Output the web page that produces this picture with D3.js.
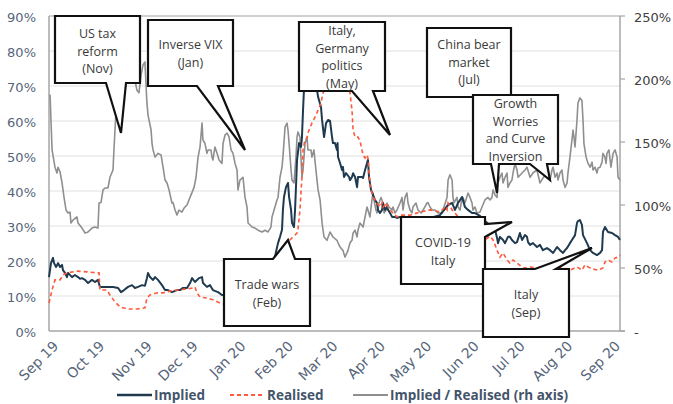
<!DOCTYPE html>
<html><head><meta charset="utf-8">
<script src="https://cdn.jsdelivr.net/npm/d3@7"></script>
<style>
html,body{margin:0;padding:0;background:#fff;}
svg{display:block;font-family:"Open Sans",sans-serif;}
</style></head>
<body><div id="chart"></div>
<script>
// ---- data (day offset from 26 Aug 2019, value in %) ----
const startDate = new Date(2019, 7, 26);
const endDate = new Date(2020, 8, 1);
const leftTicks = [0,10,20,30,40,50,60,70,80,90];
const rightTicks = [0,50,100,150,200,250];
const seriesNames = ["Implied","Realised","Implied / Realised (rh axis)"];

const implied = [[0,15.4],[1.3,19.4],[2.6,20.9],[3.3,19.4],[4.6,18.3],[5.9,19.4],[7.2,18.3],[8.5,18.9],[9.1,17.4],[10.4,16.6],[11.7,15.4],[12.4,16.6],[15,15.4],[16.9,16],[18.9,15.4],[20.2,14.9],[21.5,15.1],[23.5,14.6],[25.4,13.7],[28,14.6],[30,14],[31.9,14.6],[33.2,12.6],[37.8,12.6],[41.7,12.6],[45,12.3],[46.9,11.1],[48.9,11.7],[51.5,12.6],[54.1,13.1],[56,12.3],[58,12.6],[60.6,13.1],[62.5,12.9],[63.8,15.1],[64.5,16.6],[65.8,15.4],[67.8,14.6],[69.1,15.4],[71,14.6],[73.6,13.1],[75.6,11.7],[77.5,11.7],[80.1,11.1],[83.4,11.7],[85.3,11.7],[87.3,12.3],[89.9,12.3],[91.9,13.7],[93.2,15.1],[95.1,14],[97.7,15.1],[99.7,15.4],[100.3,13.7],[102.9,12.6],[104.9,13.1],[106.8,11.7],[110.1,11.1],[112.7,10.3],[114,10.3],[118,11.7],[121.8,11.1],[125.7,12.3],[129.7,13.1],[134.2,14],[138.8,13.1],[142.7,14.6],[146,18.9],[149.2,25.1],[150.5,26.9],[151.8,28.9],[152.4,34.6],[153.1,38.3],[154.4,41.1],[155.7,42.3],[156.4,38.3],[157.7,34.6],[158.3,30.9],[159.6,29.7],[160.3,34.6],[160.9,41.1],[161.6,48.9],[162.9,53.7],[164.2,52.6],[164.8,55.4],[165.5,63.1],[166.1,68.9],[167.4,73],[170,74.6],[172.6,71.7],[174.6,68.9],[175.3,66.9],[177.2,64],[177.9,60.3],[179.2,55.4],[180.5,59.4],[181.8,60.3],[183.1,60],[184.4,55.4],[185,53.7],[186.3,53.7],[187.6,51.7],[188,53.7],[188.3,49.7],[189.6,48],[190.9,46],[191.5,46.9],[192.2,44],[193.5,45.1],[195.5,44],[196.1,43.1],[197.4,44],[198.1,45.1],[199.4,44],[200.7,41.1],[201.3,44],[203.9,44],[204.6,43.7],[205.9,46],[207.2,48],[207.8,48.9],[208.5,44],[209.8,40.3],[211.1,38.9],[212.4,37.4],[213.7,36.6],[214.3,34.6],[215.6,33.7],[217,34.6],[217.6,36.6],[218.9,34.6],[220.2,35.4],[220.9,34.6],[222.2,33.7],[223.5,32.6],[225.4,32.6],[226.7,32.3],[228.7,32.6],[235.2,31.7],[241.7,31.1],[248.2,32.3],[254.7,33.1],[260,36],[262.6,36.6],[264.5,34.6],[266.5,36.6],[269.1,38.3],[271,35.4],[273,34.6],[275.6,33.7],[277.5,33.7],[280.8,32.9],[285.4,30.9],[288.6,29.7],[290.6,28.9],[291.9,26.6],[292.5,25.1],[293.8,26.9],[295.8,26],[297.1,25.1],[299,26.9],[300.3,26.9],[301.6,26],[303.6,25.1],[304.9,25.4],[306.8,28],[308.2,26],[310.1,27.4],[311.4,26.9],[312.1,25.4],[313.4,24.6],[315.3,25.1],[317.9,24],[319.9,24.6],[321.8,23.1],[324.4,23.7],[326.4,23.1],[328.4,22.3],[331,24],[332.9,23.1],[334.9,22.3],[336.2,23.1],[337.5,23.7],[339.4,25.1],[340.7,26],[342.7,27.4],[344,30.9],[344.6,31.4],[345.9,31.7],[347.2,30.3],[347.9,27.4],[350.5,25.1],[352.5,23.1],[354.4,22.3],[357,21.7],[359,22.3],[360.3,23.1],[360.9,28.3],[362.2,29.7],[364.2,28.3],[366.8,28],[368.8,27.4],[370.7,26.9],[372,26]];

const realised = [[0,8],[2,11.7],[3.9,14.6],[7.2,14.6],[9.1,16],[11.7,16.6],[18.2,17.1],[24.8,16.9],[31.3,16.6],[32.6,16.6],[33.2,11.7],[37.8,11.7],[39.7,10.3],[43,8.3],[46.3,6.9],[50.8,6.3],[57.3,6.3],[62.5,6.6],[63.8,9.4],[65.8,10.3],[70.4,10.9],[74.3,10.9],[78.8,11.4],[83.4,11.7],[89.9,12],[93.8,12.3],[95.1,12.6],[96.4,10.9],[98.4,9.7],[102.9,9.4],[106.8,8.9],[111.4,8],[114,7.7],[121.2,7.4],[131,8],[140.7,8.9],[144,8.9],[149.2,11.7],[153.1,19.7],[155.7,25.4],[157,26],[159,26.9],[161.6,28],[162.2,28.9],[163.5,34.6],[164.8,44],[165.5,51.7],[166.8,54.6],[168.1,55.1],[168.7,56.6],[171.3,59.4],[173.3,61.1],[175.3,63.1],[177.2,65.1],[178.5,68],[183.1,71.7],[189.6,72.3],[194.8,70.3],[196.1,68],[197.4,63.1],[198.1,57.4],[199.4,55.4],[201.3,55.4],[202.6,54.3],[203.9,51.7],[204.6,50.3],[205.9,49.4],[207.2,50.3],[207.8,49.4],[209.1,41.7],[210.4,39.4],[211.1,38.3],[213.7,36.6],[215.6,35.4],[217,36.6],[217.6,35.4],[220.2,36.6],[220.9,35.4],[222.2,34.6],[224.1,33.7],[226.7,32.6],[228.7,33.1],[235.2,33.1],[241.7,34],[248.2,34.6],[254.7,34],[258,35.4],[259.3,34.6],[260,36.6],[262.6,34.6],[264.5,33.7],[271,30.3],[277.5,27.4],[284,26],[287.3,27.1],[289.3,26],[290.6,24.6],[291.9,23.1],[293.8,21.1],[295.8,22.3],[298.4,20.3],[300.3,19.4],[302.3,20.3],[304.9,19.4],[308.8,18],[313.4,18.3],[317.9,18],[321.8,18.3],[326.4,18.6],[331,18.3],[334.9,18],[339.4,17.4],[344,18.3],[347.2,17.4],[349.2,18.9],[351.2,18.3],[354.4,17.7],[357.7,17.4],[360.9,18],[362.2,19.7],[364.2,20.3],[366.8,19.7],[368.8,20.9],[370.7,21.1],[372,21.7]];

const ratio = [[0,187],[0.7,187],[2,143.7],[3.9,130],[5.2,125.4],[5.9,130],[7.2,126.2],[8.5,117.5],[9.8,106],[11.1,96],[12.4,93.7],[13.7,94.4],[14.3,85.7],[15.6,88],[18.2,90.5],[18.9,85.7],[21.5,81.7],[23.5,77.8],[25.4,78.6],[28,81.7],[30,82.5],[31.9,81.7],[32.6,101.6],[33.9,102],[35.2,112],[36.5,113.5],[38.4,113.5],[39.7,122],[41.7,127.8],[42.3,143.7],[43.7,175.4],[44.3,201.6],[47.6,205.6],[52.8,208.7],[56,199],[57.3,191],[58.6,189],[60,203],[61.2,211],[62.5,213.5],[63.8,181],[64.5,171.4],[66.5,159.5],[67.1,149],[67.8,143.7],[69.1,138],[71,141],[73,139.7],[74.3,130],[75.6,119.8],[76.9,117.5],[78.2,112],[80.1,101.6],[80.8,102],[82.1,96],[83.4,92],[84.7,96],[86.6,94.4],[88,97.6],[89.9,100],[91.2,104],[93.2,110],[94.5,114],[95.8,122],[97.1,138],[98.4,146],[99.7,165],[100.3,151.6],[101.6,149],[102.9,141],[103.6,143.7],[105.5,143.7],[106.2,138],[106.8,135.7],[108.1,146],[109.5,141],[110.8,135.7],[112.7,133],[113.4,149],[114.7,155.6],[116,157],[117.3,154],[118.6,143.7],[119.9,141],[121.2,133],[122.5,127.8],[123.1,112],[124.4,119.8],[126.4,122],[127.7,106],[129,98.4],[129.7,85.7],[132.3,82.5],[134.2,81.7],[136.2,80],[138.8,78.6],[140.7,80],[142.7,78.6],[144.6,82.5],[145.3,90.5],[147.2,98.4],[148.5,104],[149.2,106],[150.5,122],[151.8,130],[152.4,138],[153.8,162],[155.1,165],[155.7,159.5],[156.4,149],[157.7,127.8],[158.3,119.8],[159.6,117.5],[160.9,138],[161.6,154],[162.2,158],[163.5,154],[164.8,122],[165.5,127.8],[166.8,149],[168.1,154],[168.7,143.7],[170.7,143.7],[171.3,138],[172.6,143.7],[173.9,127.8],[175.3,112],[176.6,104],[177.9,85.7],[179.2,74.6],[181.1,72],[183.1,78.6],[185,74.6],[187.6,72],[188.3,70],[189.6,66.7],[191.5,64],[192.8,58.7],[194.1,62],[194.8,64],[196.1,70],[197.4,72],[198.1,77.8],[199.4,80],[200.7,74.6],[201.3,80],[202.6,85.7],[204.6,82.5],[205.9,90.5],[207.2,98.4],[207.8,96],[209.1,90.5],[210.4,104],[211.1,109.5],[211.7,104],[213,96],[213.7,93.7],[215,101.6],[216.3,106],[217.6,101.6],[218.3,93.7],[219.6,96],[220.2,101.6],[221.5,98.4],[223.5,96],[224.1,98.4],[225.4,93.7],[226.7,96],[228.7,101.6],[230,106],[230.6,96],[231.9,106],[233.2,109.5],[233.9,101.6],[235.2,96],[236.5,93.7],[237.1,98.4],[239.1,101.6],[240.4,96],[242.4,93.7],[243.7,96],[246.3,101.6],[246.9,102],[248.2,98.4],[249.5,96],[251.5,96],[253.4,93.7],[256,93.7],[257.3,98.4],[259.3,106],[260,119.8],[261.2,124],[262.6,119.8],[263.2,106],[263.9,101.6],[265.8,106],[266.5,98.4],[267.8,96],[269.1,106],[269.7,106],[271,101.6],[273,109.5],[274.3,106],[275.6,101.6],[276.2,96],[277.5,98.4],[278.8,93.7],[280.8,94.4],[282.1,98.4],[284,104],[286,106],[287.3,104],[288.6,106],[289.3,112],[290.6,108],[291.9,106],[292.5,117.5],[293.8,122],[295.1,125.4],[295.8,117.5],[297.1,122],[298.4,125.4],[299,114],[300.3,117.5],[301.6,119.8],[302.3,125.4],[303.6,133],[304.9,127.8],[305.6,122],[308.2,125.4],[310.1,127.8],[311.4,130],[313.4,122],[315.3,125.4],[317.9,127.8],[319.9,117.5],[321.8,121.4],[324.4,125.4],[326.4,119.8],[327.7,127.8],[328.4,130],[329.7,122],[331,125.4],[331.6,119.8],[332.9,125.4],[334.2,127.8],[334.9,119.8],[336.2,114],[337.5,117.5],[338.1,125.4],[339.4,138],[340.7,151.6],[341.4,159.5],[342,154],[342.7,146],[344,167.5],[344.6,181],[345.9,185],[347.2,183],[347.9,167.5],[348.5,149],[349.9,138],[351.2,133],[352.5,130],[353.8,134],[354.4,127.8],[355.7,130],[357,125.4],[357.7,129.4],[359,130],[360.3,134],[360.9,141],[362.2,138],[362.9,133],[363.5,141],[364.8,143.7],[366.1,130],[367.5,141],[368.8,143.7],[370.1,138],[370.7,122],[372,119.8]];

// ---- annotations (callout text) ----
const callouts = [
  {lines:["US tax","reform","(Nov)"], box:[55,16,140,83], ptr:{side:"bottom", a:106, b:126, tip:[121,133]}, base:38},
  {lines:["Inverse VIX","(Jan)"], box:[148,20,233,86], ptr:{side:"bottom", a:197, b:218, tip:[245,150]}, base:49},
  {lines:["Italy,","Germany","politics","(May)"], box:[299,22,385,91], ptr:{side:"bottom", a:352, b:373, tip:[390,135]}, base:35},
  {lines:["China bear","market","(Jul)"], box:[427,28,511,97], ptr:null, base:49},
  {lines:["Growth","Worries","and Curve","Inversion"], box:[473,95,558,164], ptr:{side:"bottom2", a:491, b:499, tip:[497,193], a2:530, b2:547, tip2:[550,180]}, base:108},
  {lines:["COVID-19","Italy"], box:[401,217,485,284], ptr:{side:"right", a:224, b:237, tip:[512,222]}, base:247},
  {lines:["Trade wars","(Feb)"], box:[224,259,310,326], ptr:{side:"top", a:273, b:295, tip:[288,240]}, base:289},
  {lines:["Italy","(Sep)"], box:[483,269,569,337], ptr:{side:"top", a:535, b:556, tip:[592,248]}, base:299}
];

// ---- chart ----
const W = 673, H = 404;
const margin = {left:49, right:53, top:16, bottom:73};
const svg = d3.select("#chart").append("svg").attr("width",W).attr("height",H);
const toDate = d => new Date(startDate.getTime() + d*864e5);
const axisFont = "'DejaVu Sans', sans-serif";

const x = d3.scaleTime().domain([startDate,endDate]).range([margin.left, W-margin.right]);
const yL = d3.scaleLinear().domain([0,90]).range([H-margin.bottom, margin.top]);
const yR = d3.scaleLinear().domain([0,250]).range([H-margin.bottom, margin.top]);
const x0 = margin.left, x1 = W-margin.right;

// gridlines
svg.append("g").selectAll("line").data(leftTicks.slice(1)).join("line")
  .attr("x1",x0).attr("x2",x1).attr("y1",d=>yL(d)).attr("y2",d=>yL(d))
  .attr("stroke",d=>d===90?"#bfbfbf":"#e0e0e0").attr("stroke-width",d=>d===90?1.5:1);

// left tick labels
svg.append("g").selectAll("text").data(leftTicks).join("text")
  .attr("x",36).attr("y",d=>yL(d)+5.5).attr("text-anchor","end")
  .attr("font-family",axisFont).attr("font-size",13).attr("fill","#56657a").text(d=>d+"%");

// right tick labels + ticks
svg.append("g").selectAll("text").data(rightTicks).join("text")
  .attr("x",634).attr("y",d=>yR(d)+5.5).attr("text-anchor","start")
  .attr("font-family",axisFont).attr("font-size",13).attr("fill","#404040").text(d=>d===0?"-":d+"%");
svg.append("g").selectAll("line").data(rightTicks).join("line")
  .attr("x1",x1).attr("x2",x1+5).attr("y1",d=>yR(d)).attr("y2",d=>yR(d))
  .attr("stroke","#a6a6a6").attr("stroke-width",1.2);

// axis lines
const axisG = svg.append("g").attr("stroke","#a6a6a6").attr("stroke-width",1.5);
axisG.append("line").attr("x1",x0).attr("x2",x0).attr("y1",yL(90)).attr("y2",yL(0));
axisG.append("line").attr("x1",x1).attr("x2",x1).attr("y1",yR(250)).attr("y2",yR(0));
axisG.append("line").attr("x1",x0).attr("x2",x1+5).attr("y1",yL(0)).attr("y2",yL(0));

// x labels
const months = d3.timeMonth.range(new Date(2019,8,1), new Date(2020,8,2));
const fmt = d3.timeFormat("%b %y");
svg.append("g").selectAll("text").data(months).join("text")
  .attr("transform",d=>`translate(${x(d)+1},${347}) rotate(-45)`)
  .attr("text-anchor","end").attr("font-family",axisFont).attr("font-size",14)
  .attr("fill","#56657a").text(fmt);

// lines
const lineL = d3.line().x(d=>x(toDate(d[0]))).y(d=>yL(d[1]));
const lineR = d3.line().x(d=>x(toDate(d[0]))).y(d=>yR(d[1]));
svg.append("path").datum(ratio).attr("d",lineR).attr("fill","none")
  .attr("stroke","#8f8f8f").attr("stroke-width",1.6).attr("stroke-linejoin","round");
svg.append("path").datum(implied).attr("d",lineL).attr("fill","none")
  .attr("stroke","#1f3a4f").attr("stroke-width",2).attr("stroke-linejoin","round");
svg.append("path").datum(realised).attr("d",lineL).attr("fill","none")
  .attr("stroke","#ff5a3c").attr("stroke-width",1.6).attr("stroke-dasharray","4,3");

// callouts
function calloutPath(c){
  const [l,t,r,b] = c.box, p = c.ptr;
  let pts;
  if(!p) pts = [[l,t],[r,t],[r,b],[l,b]];
  else if(p.side==="bottom") pts = [[l,t],[r,t],[r,b],[p.b,b],p.tip,[p.a,b],[l,b]];
  else if(p.side==="bottom2") pts = [[l,t],[r,t],[r,b],[p.b2,b],p.tip2,[p.a2,b],[p.b,b],p.tip,[p.a,b],[l,b]];
  else if(p.side==="top") pts = [[l,t],[p.a,t],p.tip,[p.b,t],[r,t],[r,b],[l,b]];
  else if(p.side==="right") pts = [[l,t],[r,t],[r,p.a],p.tip,[r,p.b],[r,b],[l,b]];
  return "M"+pts.map(q=>q.join(",")).join("L")+"Z";
}
const cg = svg.append("g");
callouts.forEach(c=>{
  cg.append("path").attr("d",calloutPath(c)).attr("fill","#fff")
    .attr("stroke","#111").attr("stroke-width",2.2).attr("stroke-linejoin","miter");
  const cx = (c.box[0]+c.box[2])/2;
  c.lines.forEach((s,i)=>{
    cg.append("text").attr("x",cx).attr("y",c.base+i*17.7).attr("text-anchor","middle")
      .attr("font-size",12.5).attr("fill","#3a3a3a").text(s);
  });
});

// legend
const legend = [
  {name:seriesNames[0], x:117, color:"#1f3a4f", dash:null, w:2},
  {name:seriesNames[1], x:230, color:"#ff5a3c", dash:"4,3", w:1.6},
  {name:seriesNames[2], x:353, color:"#8f8f8f", dash:null, w:1.6}
];
const lg = svg.append("g");
legend.forEach(o=>{
  lg.append("line").attr("x1",o.x).attr("x2",o.x+35).attr("y1",395).attr("y2",395)
    .attr("stroke",o.color).attr("stroke-width",o.w+0.4).attr("stroke-dasharray",o.dash);
  lg.append("text").attr("x",o.x+37).attr("y",400).attr("font-size",13.5).attr("font-weight","bold")
    .attr("fill","#44546a").text(o.name);
});
</script></body></html>
